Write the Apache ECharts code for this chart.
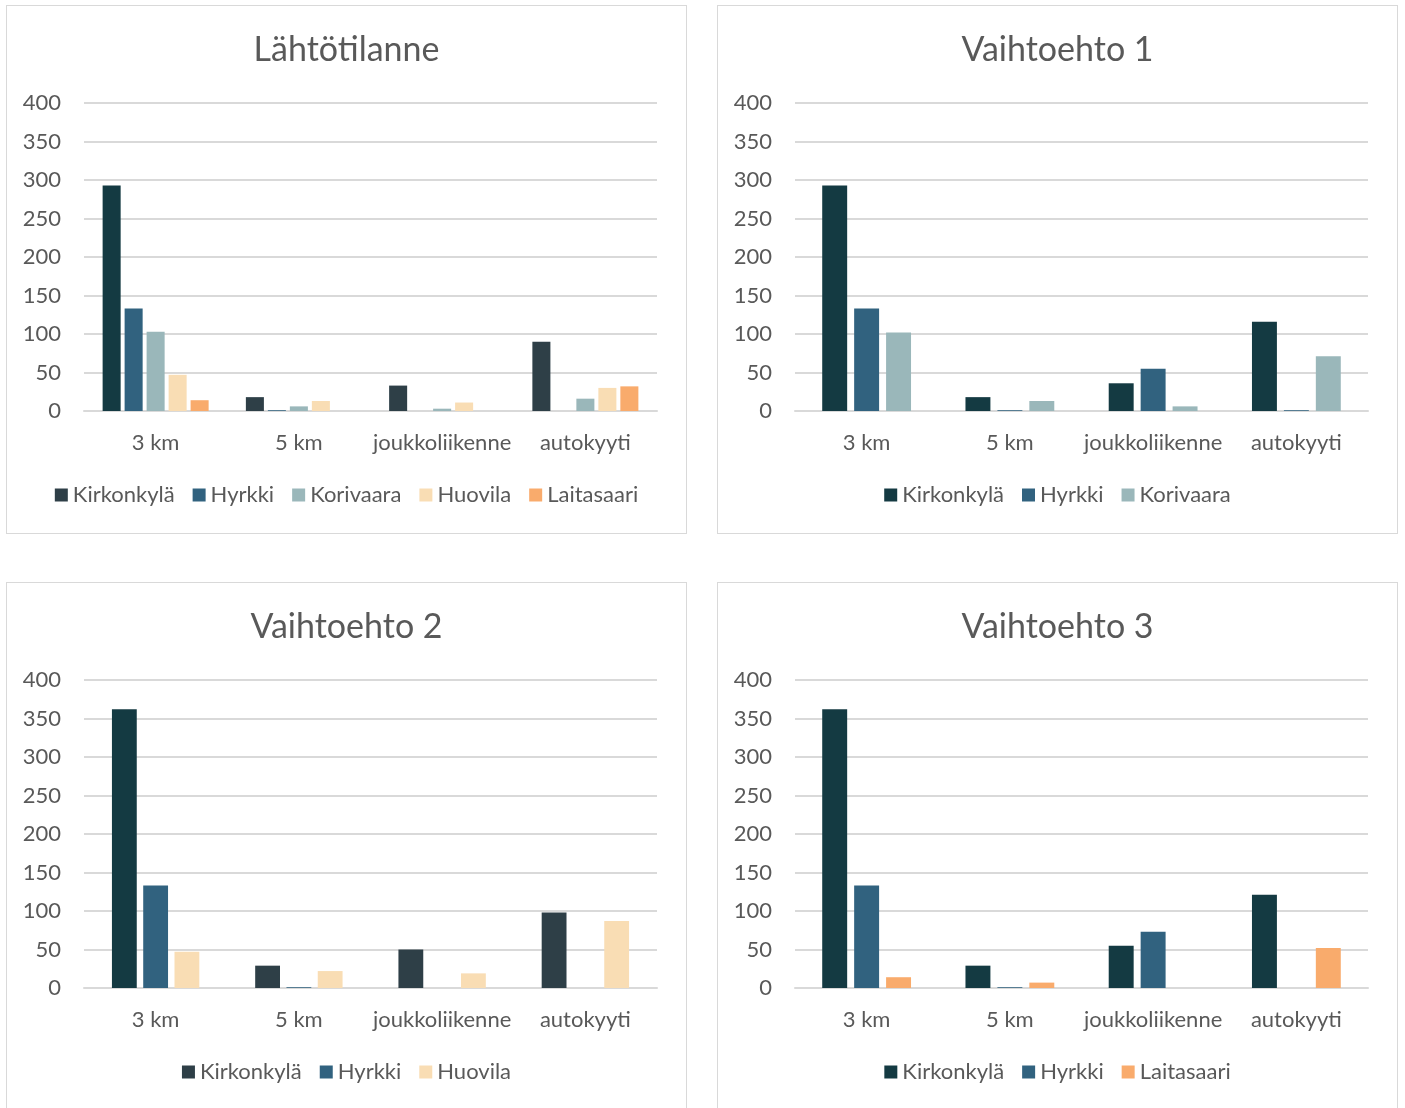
<!DOCTYPE html>
<html>
<head>
<meta charset="utf-8">
<script src="https://cdn.jsdelivr.net/npm/echarts@6/dist/echarts.min.js"></script>
<style>
  html, body { margin: 0; padding: 0; background: #fff; overflow: hidden; }
  .panel { position: absolute; width: 679px; height: 527px; border: 1px solid #d9d9d9; background: #fff; }
</style>
</head>
<body>
<div class="panel" id="c0" style="left:6px;top:5px"></div>
<div class="panel" id="c1" style="left:717px;top:5px"></div>
<div class="panel" id="c2" style="left:6px;top:582px"></div>
<div class="panel" id="c3" style="left:717px;top:582px"></div>
<script>
var categories = ['3 km', '5 km', 'joukkoliikenne', 'autokyyti'];
var titles = ['Lähtötilanne', 'Vaihtoehto 1', 'Vaihtoehto 2', 'Vaihtoehto 3'];

// Lähtötilanne
var base_kirkonkyla = [293, 18, 33, 90];
var base_hyrkki = [133, 1, 0, 0];
var base_korivaara = [103, 6, 3, 16];
var base_huovila = [47, 13, 11, 30];
var base_laitasaari = [14, 0, 0, 32];

// Vaihtoehto 1
var v1_kirkonkyla = [293, 18, 36, 116];
var v1_hyrkki = [133, 1, 55, 1];
var v1_korivaara = [102, 13, 6, 71];

// Vaihtoehto 2
var v2_kirkonkyla = [362, 29, 50, 98];
var v2_hyrkki = [133, 1, 0, 0];
var v2_huovila = [47, 22, 19, 87];

// Vaihtoehto 3
var v3_kirkonkyla = [362, 29, 55, 121];
var v3_hyrkki = [133, 1, 73, 0];
var v3_laitasaari = [14, 7, 0, 52];

var TEAL = '#143a42', SLATE = '#2e3f47', BLUE = '#31627f', GREY = '#9ab7ba', SAND = '#f9ddb4', ORANGE = '#f9ab6c';
var FONT = 'Lato, "Open Sans", sans-serif';
var TXT = '#595959';

// first bar teal, the rest slate (as in the source workbook)
function firstTeal(p) { return p.dataIndex === 0 ? TEAL : SLATE; }

function makeChart(id, title, series, barGap, catGap) {
	var chart = echarts.init(document.getElementById(id));
	var option = {
		animation: false,
		title: {
			text: title,
			left: 'center',
			top: 22,
			textStyle: { color: TXT, fontSize: 34, fontWeight: 'normal', fontFamily: FONT }
		},
		legend: {
			bottom: 22,
			left: 'center',
			icon: 'rect',
			itemWidth: 13,
			itemHeight: 13,
			itemGap: 18,
			textStyle: { color: TXT, fontSize: 22, fontFamily: FONT },
			data: series.map(function (s) { return { name: s.name, itemStyle: { color: s.legendColor } }; })
		},
		grid: { left: 77, right: 29, top: 97, bottom: 122 },
		xAxis: {
			type: 'category',
			data: categories,
			axisLine: { lineStyle: { color: '#d9d9d9', width: 2 } },
			axisTick: { show: false },
			axisLabel: { color: TXT, fontSize: 22, fontFamily: FONT, margin: 21, interval: 0 }
		},
		yAxis: {
			type: 'value',
			min: 0,
			max: 400,
			interval: 50,
			axisLine: { show: false },
			axisTick: { show: false },
			axisLabel: { color: TXT, fontSize: 22, fontFamily: FONT, margin: 23 },
			splitLine: { lineStyle: { color: '#d9d9d9', width: 2 } }
		},
		series: series.map(function (s) {
			return {
				name: s.name,
				type: 'bar',
				data: s.data,
				barGap: barGap,
				barCategoryGap: catGap,
				itemStyle: { color: s.color }
			};
		})
	};
	chart.setOption(option);
	return chart;
}

makeChart('c0', titles[0], [
	{ name: 'Kirkonkylä', data: base_kirkonkyla, color: firstTeal, legendColor: SLATE },
	{ name: 'Hyrkki', data: base_hyrkki, color: BLUE, legendColor: BLUE },
	{ name: 'Korivaara', data: base_korivaara, color: GREY, legendColor: GREY },
	{ name: 'Huovila', data: base_huovila, color: SAND, legendColor: SAND },
	{ name: 'Laitasaari', data: base_laitasaari, color: ORANGE, legendColor: ORANGE }
], '22%', '26%');

makeChart('c1', titles[1], [
	{ name: 'Kirkonkylä', data: v1_kirkonkyla, color: TEAL, legendColor: TEAL },
	{ name: 'Hyrkki', data: v1_hyrkki, color: BLUE, legendColor: BLUE },
	{ name: 'Korivaara', data: v1_korivaara, color: GREY, legendColor: GREY }
], '28%', '38%');

makeChart('c2', titles[2], [
	{ name: 'Kirkonkylä', data: v2_kirkonkyla, color: firstTeal, legendColor: SLATE },
	{ name: 'Hyrkki', data: v2_hyrkki, color: BLUE, legendColor: BLUE },
	{ name: 'Huovila', data: v2_huovila, color: SAND, legendColor: SAND }
], '26%', '39%');

makeChart('c3', titles[3], [
	{ name: 'Kirkonkylä', data: v3_kirkonkyla, color: TEAL, legendColor: TEAL },
	{ name: 'Hyrkki', data: v3_hyrkki, color: BLUE, legendColor: BLUE },
	{ name: 'Laitasaari', data: v3_laitasaari, color: ORANGE, legendColor: ORANGE }
], '28%', '38%');
</script>
</body>
</html>
